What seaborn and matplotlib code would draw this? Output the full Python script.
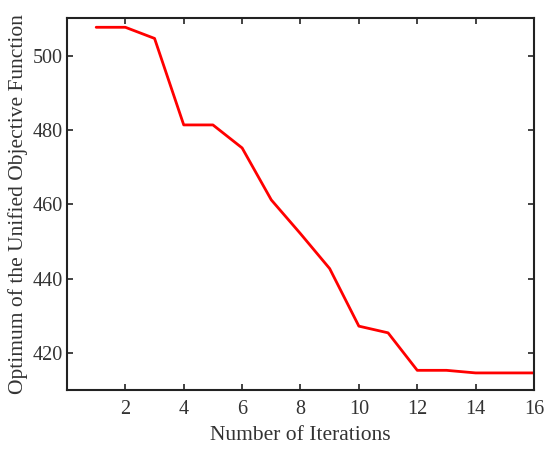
import numpy as np
import pandas as pd
import seaborn as sns
import matplotlib.pyplot as plt

# convergence of the unified objective function
iterations = [1, 2, 3, 4, 5, 6, 7, 8, 9, 10, 11, 12, 13, 14, 15, 16]
optimum = [507.7, 507.7, 504.7, 481.4, 481.4, 475.2, 461.2, 452.1,
           442.7, 427.2, 425.4, 415.3, 415.3, 414.6, 414.6, 414.6]
xticks = [2, 4, 6, 8, 10, 12, 14, 16]
yticks = [420, 440, 460, 480, 500]

df = pd.DataFrame({'iter': iterations, 'opt': optimum})

sns.set_style('ticks')
plt.rcParams['font.family'] = ['Liberation Serif', 'DejaVu Serif']

fig = plt.figure(figsize=(5.5, 4.49), dpi=100)
ax = fig.add_axes([0.1218, 0.1314, 0.8491, 0.8285])

sns.lineplot(data=df, x='iter', y='opt', color='#ff0000', linewidth=2, ax=ax)

ax.set_xlim(0, 16)
ax.set_ylim(410, 510.2)
ax.set_xticks(xticks)
ax.set_yticks(yticks)
ax.tick_params(direction='in', top=True, right=True, length=4, width=1.2,
               colors='#222222', labelsize=14.5, labelcolor='#333333')
ax.tick_params(axis='x', pad=7)
ax.tick_params(axis='y', pad=3)
for s in ax.spines.values():
    s.set_linewidth(1.5)
    s.set_color('#222222')

ax.set_xlabel('Number of Iterations', fontsize=15.5, color='#333333', labelpad=5)
ax.set_ylabel('Optimum of the Unified Objective Function', fontsize=15.5, color='#333333', labelpad=3)

fig.savefig('out.png', dpi=100)
